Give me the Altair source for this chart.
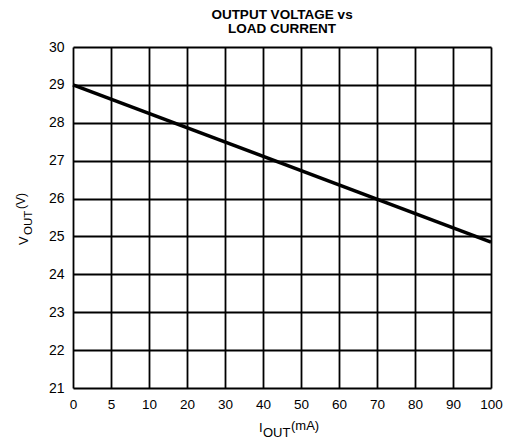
import altair as alt
import pandas as pd

# ---- data ----
x_labels = ["0", "5", "10", "20", "30", "40", "50", "60", "70", "80", "90", "100"]
y_ticks = [21, 22, 23, 24, 25, 26, 27, 28, 29, 30]
line_iout = ["0", "100"]
line_vout = [29.0, 24.85]
title_lines = ["OUTPUT VOLTAGE vs", "LOAD CURRENT"]

FONT = "Liberation Sans"
W, H = 418, 341

df = pd.DataFrame({"iout": line_iout, "vout": line_vout})
one = pd.DataFrame({"k": [0]})

x_enc = alt.X(
    "iout:O",
    scale=alt.Scale(type="point", domain=x_labels, padding=0),
    axis=alt.Axis(
        title=None, labelAngle=0, ticks=False, domain=False, grid=True,
        gridColor="black", gridWidth=1.8, gridOpacity=1,
        labelFont=FONT, labelFontSize=13.5, labelColor="black", labelPadding=9,
    ),
)
y_enc = alt.Y(
    "vout:Q",
    scale=alt.Scale(domain=[21, 30], nice=False, zero=False),
    axis=alt.Axis(
        title=None, values=y_ticks, ticks=False, domain=False, grid=True,
        gridColor="black", gridWidth=1.8, gridOpacity=1,
        labelFont=FONT, labelFontSize=14, labelColor="black", labelPadding=9,
    ),
)

line = alt.Chart(df).mark_line(color="black", strokeWidth=3.5).encode(x=x_enc, y=y_enc)


def txt(s, px, py, size, angle=0, align="left", weight="normal"):
    return alt.Chart(one).mark_text(
        text=s, align=align, baseline="alphabetic", font=FONT,
        fontSize=size, color="black", angle=angle, fontWeight=weight,
    ).encode(x=alt.value(px), y=alt.value(py))


labels = [
    txt(title_lines[0], W / 2, -28, 13.5, align="center", weight="bold"),
    txt(title_lines[1], W / 2, -14, 13.5, align="center", weight="bold"),
    txt("I", 186, 385, 13),
    txt("OUT", 190, 390, 13),
    txt("(mA)", 218, 383, 13),
    txt("V", -45, 198, 13, 270),
    txt("OUT", -41, 188, 11.5, 270),
    txt("(V)", -48, 162, 12, 270),
]

chart = alt.layer(line, *labels).properties(
    width=W, height=H,
    autosize=alt.AutoSizeParams(type="none"),
    padding={"left": 65, "top": 39, "right": 15, "bottom": 51},
).configure_view(stroke="black", strokeWidth=3).configure(background="white")

chart.save("out.html", embed_options={"renderer": "svg", "actions": False})
